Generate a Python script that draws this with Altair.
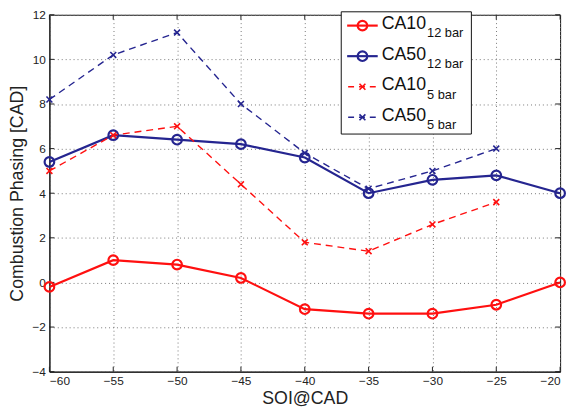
import altair as alt
import pandas as pd

# ---- data ----
soi_12 = [-60, -55, -50, -45, -40, -35, -30, -25, -20]
ca10_12bar = [-0.2, 1.0, 0.8, 0.2, -1.2, -1.4, -1.4, -1.0, 0.0]
ca50_12bar = [5.4, 6.6, 6.4, 6.2, 5.6, 4.0, 4.6, 4.8, 4.0]
soi_5 = [-60, -55, -50, -45, -40, -35, -30, -25]
ca10_5bar = [5.0, 6.6, 7.0, 4.4, 1.8, 1.4, 2.6, 3.6]
ca50_5bar = [8.2, 10.2, 11.2, 8.0, 5.8, 4.2, 5.0, 6.0]

x_ticks = [-60, -55, -50, -45, -40, -35, -30, -25, -20]
y_ticks = [-4, -2, 0, 2, 4, 6, 8, 10, 12]

series_main = ["CA10", "CA50", "CA10", "CA50"]
series_sub = ["12 bar", "12 bar", "5 bar", "5 bar"]

RED = "#ff1010"
BLUE = "#252590"
W, H = 518, 362
FONT = "Liberation Sans"
XMARK = "M-1,-1L1,1M-1,1L1,-1"

xs = alt.Scale(domain=[-60, -20], nice=False)
ys = alt.Scale(domain=[-4, 12], nice=False)

x_enc = alt.X("x:Q", scale=xs, title="SOI@CAD",
              axis=alt.Axis(values=x_ticks, format="d"))
y_enc = alt.Y("y:Q", scale=ys, title="Combustion Phasing [CAD]",
              axis=alt.Axis(values=y_ticks, format="d"))

specs = [
    (soi_12, ca10_12bar, RED, "circle"),
    (soi_12, ca50_12bar, BLUE, "circle"),
    (soi_5, ca10_5bar, RED, "x"),
    (soi_5, ca50_5bar, BLUE, "x"),
]

layers = []

# inward ticks (box style)
tx = pd.DataFrame({"x": x_ticks})
ty = pd.DataFrame({"y": y_ticks})
tick_style = dict(color="#222222", strokeWidth=1)
layers.append(alt.Chart(tx).mark_rule(**tick_style).encode(
    x=alt.X("x:Q", scale=xs), y=alt.value(H), y2=alt.value(H - 5)))
layers.append(alt.Chart(tx).mark_rule(**tick_style).encode(
    x=alt.X("x:Q", scale=xs), y=alt.value(0), y2=alt.value(5)))
layers.append(alt.Chart(ty).mark_rule(**tick_style).encode(
    y=alt.Y("y:Q", scale=ys), x=alt.value(0), x2=alt.value(5)))
layers.append(alt.Chart(ty).mark_rule(**tick_style).encode(
    y=alt.Y("y:Q", scale=ys), x=alt.value(W - 5), x2=alt.value(W)))

for xv, yv, col, mk in specs:
    df = pd.DataFrame({"x": xv, "y": yv})
    if mk == "circle":
        line = alt.Chart(df).mark_line(color=col, strokeWidth=2.2).encode(x=x_enc, y=y_enc)
        pts = alt.Chart(df).mark_point(shape="circle", size=95, filled=False,
                                       color=col, strokeWidth=2.2, opacity=1).encode(x=x_enc, y=y_enc)
    else:
        line = alt.Chart(df).mark_line(color=col, strokeWidth=1.4,
                                       strokeDash=[7, 5]).encode(x=x_enc, y=y_enc)
        pts = alt.Chart(df).mark_point(shape=XMARK, size=36, filled=False,
                                       color=col, strokeWidth=1.6, opacity=1).encode(x=x_enc, y=y_enc)
    layers += [line, pts]

# ---- custom legend (subscript labels) ----
one = alt.Data(values=[{"a": 1}])
LX0, LX1, LY0, LY1 = 296, 428, -3, 121
layers.append(alt.Chart(one).mark_rect(fill="white", stroke="#111111", strokeWidth=1).encode(
    x=alt.value(LX0), x2=alt.value(LX1), y=alt.value(LY0), y2=alt.value(LY1)))

row_y = [11, 42, 73, 104]
for i, (xv, yv, col, mk) in enumerate(specs):
    ry = row_y[i]
    if mk == "circle":
        layers.append(alt.Chart(one).mark_rule(color=col, strokeWidth=2.2).encode(
            x=alt.value(302), x2=alt.value(333), y=alt.value(ry)))
        layers.append(alt.Chart(one).mark_point(shape="circle", size=95, filled=False,
                                                color=col, strokeWidth=2.2, opacity=1).encode(
            x=alt.value(317.5), y=alt.value(ry)))
    else:
        layers.append(alt.Chart(one).mark_rule(color=col, strokeWidth=1.4, strokeDash=[6, 5],
                                               strokeDashOffset=-1).encode(
            x=alt.value(302), x2=alt.value(334), y=alt.value(ry)))
        layers.append(alt.Chart(one).mark_point(shape=XMARK, size=36, filled=False,
                                                color=col, strokeWidth=1.6, opacity=1).encode(
            x=alt.value(317.5), y=alt.value(ry)))
    layers.append(alt.Chart(one).mark_text(align="left", baseline="alphabetic", font=FONT,
                                           fontSize=18, color="#111111").encode(
        x=alt.value(337), y=alt.value(ry + 3.5), text=alt.value(series_main[i])))
    layers.append(alt.Chart(one).mark_text(align="left", baseline="alphabetic", font=FONT,
                                           fontSize=13, color="#111111").encode(
        x=alt.value(383), y=alt.value(ry + 12), text=alt.value(series_sub[i])))

chart = alt.layer(*layers).properties(
    width=W, height=H,
    autosize=alt.AutoSizeParams(type="none"),
    padding={"left": 42, "top": 4, "right": 8, "bottom": 34},
).configure(
    background="white"
).configure_view(
    stroke="#111111", strokeWidth=1
).configure_axis(
    grid=True, gridDash=[1, 3], gridColor="#777777", gridWidth=1,
    domainColor="#111111", domainWidth=1,
    ticks=False, labelFont=FONT, labelFontSize=12, labelColor="#222222",
    titleFont=FONT, titleFontSize=18, titleFontWeight="normal", titleColor="#222222",
    labelPadding=4,
).configure_axisX(
    titlePadding=3,
).configure_axisY(
    titlePadding=6,
)

chart.save("out.html", embed_options={"renderer": "svg", "actions": False})
